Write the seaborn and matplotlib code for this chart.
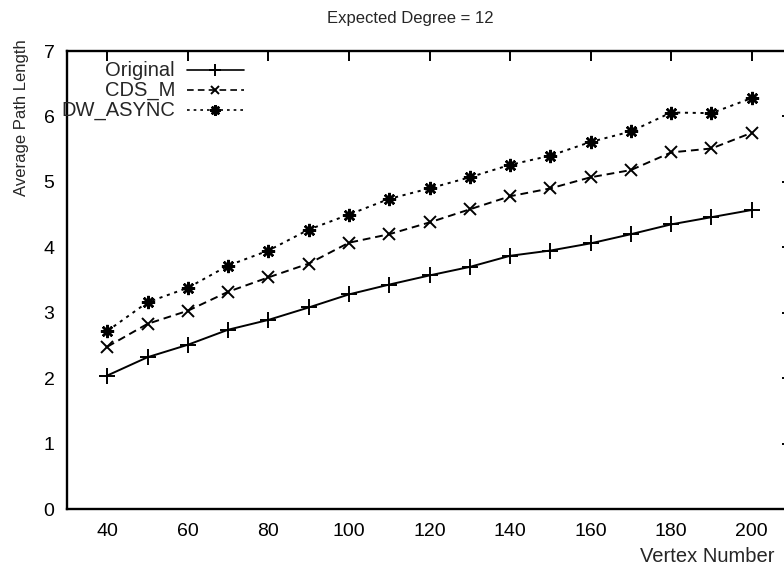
import matplotlib
matplotlib.use("Agg")
import matplotlib.pyplot as plt
from matplotlib.lines import Line2D
import seaborn as sns
import pandas as pd

# Vertex counts and measured average path lengths
vertex_number = [40, 50, 60, 70, 80, 90, 100, 110, 120, 130, 140, 150, 160, 170, 180, 190, 200]
original = [2.04, 2.32, 2.51, 2.74, 2.89, 3.08, 3.28, 3.43, 3.57, 3.70, 3.87, 3.95, 4.06, 4.20, 4.35, 4.46, 4.57]
cds_m = [2.48, 2.83, 3.03, 3.32, 3.54, 3.75, 4.07, 4.20, 4.38, 4.58, 4.78, 4.90, 5.07, 5.18, 5.45, 5.51, 5.75]
dw_async = [2.72, 3.16, 3.38, 3.72, 3.95, 4.27, 4.50, 4.74, 4.90, 5.07, 5.26, 5.40, 5.61, 5.77, 6.06, 6.05, 6.28]

series_names = ["Original", "CDS_M", "DW_ASYNC"]
y_ticks = [0, 1, 2, 3, 4, 5, 6, 7]
x_ticks = [40, 60, 80, 100, 120, 140, 160, 180, 200]

df = pd.DataFrame({
    "Vertex Number": vertex_number * 3,
    "Average Path Length": original + cds_m + dw_async,
    "method": sum([[n] * len(vertex_number) for n in series_names], []),
})

sns.set_theme(style="white")
plt.rcParams["font.family"] = ["Liberation Sans", "DejaVu Sans"]

styles = {
    "Original": dict(ls="-", marker="+", ms=11, mew=1.4),
    "CDS_M": dict(ls=(0, (4, 2.5)), marker="x", ms=8, mew=1.4),
    "DW_ASYNC": dict(ls=(0, (1.6, 2.4)), marker=(8, 2, 0), ms=9.5, mew=1.8),
}

fig = plt.figure(figsize=(7.84, 5.71), dpi=100)
ax = fig.add_axes([67 / 784, 1 - 509 / 571, 725 / 784, 458 / 571])

for name in series_names:
    st = styles[name]
    sns.lineplot(data=df[df["method"] == name], x="Vertex Number", y="Average Path Length",
                 ax=ax, color="black", lw=1.4, linestyle=st["ls"], marker=st["marker"],
                 markersize=st["ms"], markeredgewidth=st["mew"], markeredgecolor="black",
                 legend=False)

ax.set_xlim(30, 210)
ax.set_ylim(0, 7)
ax.set_xticks(x_ticks)
ax.set_yticks(y_ticks)
ax.tick_params(direction="in", length=7, width=1.4, top=True, right=True,
               labelsize=14, colors="black", pad=9)
ax.tick_params(axis="x", pad=10)
for sp in ax.spines.values():
    sp.set_linewidth(1.7)
    sp.set_color("black")
ax.set_xlabel("")
ax.set_ylabel("")

fig.text(775 / 784, 1 - 556 / 571, "Vertex Number", ha="right", va="center", fontsize=14.5)
fig.text(22 / 784, 1 - 118 / 571, "Average Path Length", rotation=90, ha="center",
         va="center", fontsize=12)
fig.text(410 / 784, 1 - 19 / 571, "Expected Degree = 12", ha="center", va="center", fontsize=12)

# gnuplot-style key: right-aligned labels followed by a line sample
tr = ax.transAxes
for i, name in enumerate(series_names):
    st = styles[name]
    y_px = 70 + i * 20
    yf = (509 - y_px) / 458
    ax.text((175 - 67) / 725, yf, name, ha="right", va="center", fontsize=14.5,
            transform=tr, clip_on=False)
    ax.add_line(Line2D([(187 - 67) / 725, (244 - 67) / 725], [yf, yf], transform=tr,
                       color="black", lw=1.2, linestyle=st["ls"]))
    ax.add_line(Line2D([(215 - 67) / 725], [yf], transform=tr, color="black",
                       marker=st["marker"], markersize=st["ms"] * 0.8,
                       markeredgewidth=st["mew"], linestyle="none"))

fig.savefig("out.png", dpi=100)
